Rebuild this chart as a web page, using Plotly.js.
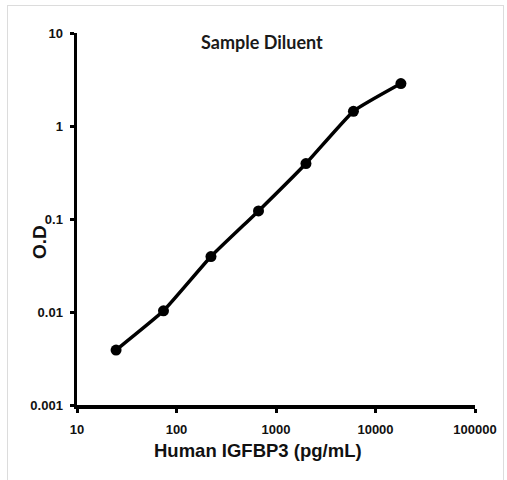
<!DOCTYPE html>
<html>
<head>
<meta charset="utf-8">
<script src="https://cdn.plot.ly/plotly-3.0.1.min.js"></script>
<style>
  html, body { margin: 0; padding: 0; background: #fff; }
  #wrap { position: relative; width: 507px; height: 480px; }
  #chart { width: 507px; height: 480px; }
  #frame { position: absolute; left: 7px; top: 5px; width: 495px; height: 480px; border: 1px solid #dcdcdc; border-bottom: none; pointer-events: none; }
</style>
</head>
<body>
<div id="wrap">
  <div id="chart"></div>
  <div id="frame"></div>
</div>
<script>
const concentration = [24.7, 74, 222, 667, 2000, 6000, 18000];
const od = [0.0039, 0.0103, 0.0395, 0.122, 0.395, 1.44, 2.86];
const xTickVals = [10, 100, 1000, 10000, 100000];
const xTickText = ["10", "100", "1000", "10000", "100000"];
const yTickVals = [0.001, 0.01, 0.1, 1, 10];
const yTickText = ["0.001", "0.01", "0.1", "1", "10"];

const tickFont = {family: "Liberation Sans, Arial, sans-serif", size: 13, color: "#111", weight: 700};

const trace = {
  x: concentration,
  y: od,
  type: "scatter",
  mode: "lines+markers",
  line: {color: "#000", width: 3.5, shape: "spline", smoothing: 0.4},
  marker: {color: "#000", size: 11, symbol: "circle"},
  hoverinfo: "x+y"
};

const layout = {
  width: 507,
  height: 480,
  margin: {l: 77, r: 32, t: 33, b: 75},
  paper_bgcolor: "#fff",
  plot_bgcolor: "#fff",
  showlegend: false,
  xaxis: {
    type: "log",
    range: [1, 5],
    tickvals: xTickVals,
    ticktext: xTickText,
    ticks: "outside",
    ticklen: 4,
    tickwidth: 3,
    tickcolor: "#000",
    showline: true,
    linecolor: "#000",
    linewidth: 3.5,
    showgrid: false,
    zeroline: false,
    ticklabelstandoff: 6,
    tickfont: tickFont
  },
  yaxis: {
    type: "log",
    range: [-3, 1],
    tickvals: yTickVals,
    ticktext: yTickText,
    ticks: "outside",
    ticklen: 4,
    tickwidth: 3,
    tickcolor: "#000",
    showline: true,
    linecolor: "#000",
    linewidth: 3.5,
    showgrid: false,
    zeroline: false,
    ticklabelstandoff: 4,
    tickfont: tickFont
  },
  annotations: [
    {
      text: "Sample Diluent",
      xref: "paper", yref: "paper",
      x: (262 - 77) / 398, y: 1 - (42 - 33) / 372,
      xanchor: "center", yanchor: "middle",
      showarrow: false,
      font: {family: "Lato, Open Sans, sans-serif", size: 18, color: "#1a1a1a", weight: 700}
    },
    {
      text: "<b>Human IGFBP3 (pg/mL)</b>",
      xref: "paper", yref: "paper",
      x: (258 - 77) / 398, y: -(450 - 405) / 372,
      xanchor: "center", yanchor: "middle",
      showarrow: false,
      font: {family: "Liberation Sans, Arial, sans-serif", size: 18.5, color: "#111"}
    },
    {
      text: "<b>O.D</b>",
      xref: "paper", yref: "paper",
      x: -(77 - 40) / 398, y: 1 - (242 - 33) / 372,
      xanchor: "center", yanchor: "middle",
      textangle: -90,
      showarrow: false,
      font: {family: "Liberation Sans, Arial, sans-serif", size: 19, color: "#111"}
    }
  ]
};

Plotly.newPlot("chart", [trace], layout, {displayModeBar: false, staticPlot: true});
</script>
</body>
</html>
